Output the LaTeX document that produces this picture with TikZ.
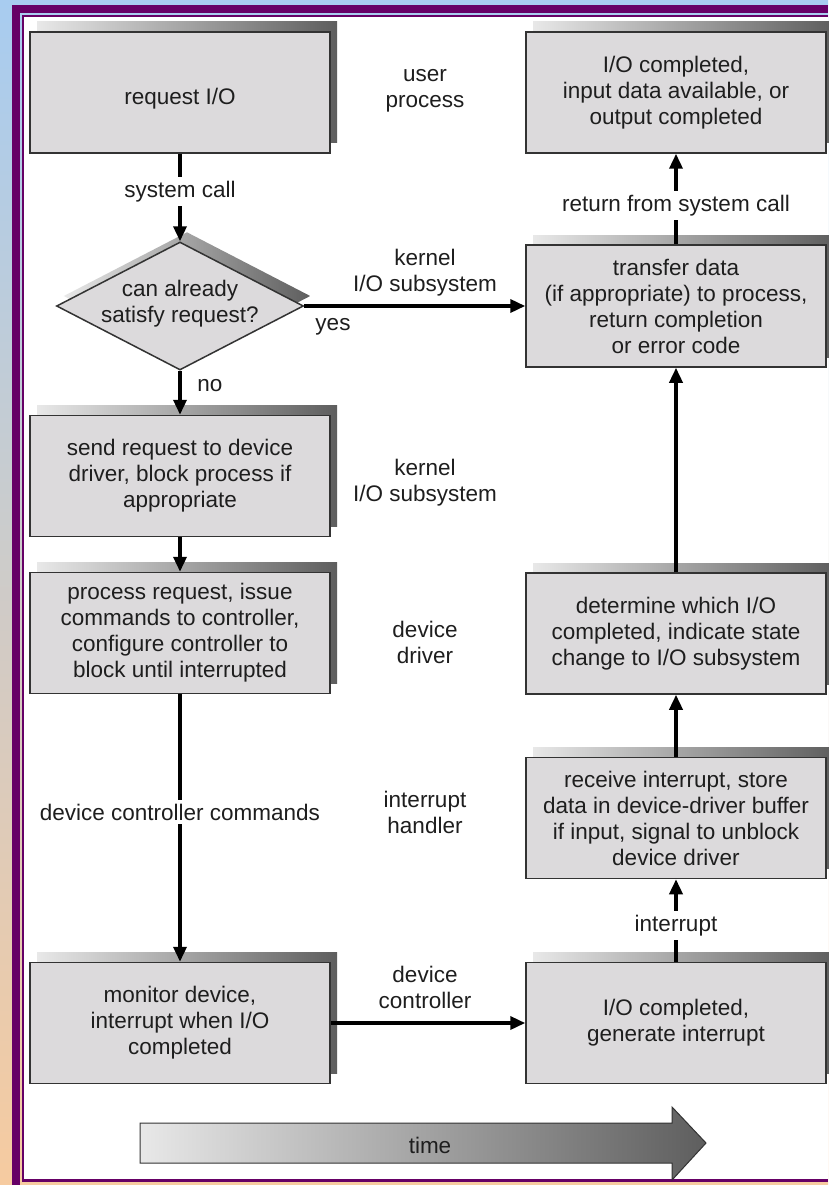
\documentclass[tikz,border=0pt]{standalone}
\usepackage{fontspec}
\setmainfont{Liberation Sans}
\usetikzlibrary{arrows.meta,shapes.geometric,shadows}
\definecolor{bgtop}{HTML}{A8CCF0}
\definecolor{bgbot}{HTML}{F6CBA0}
\definecolor{purp}{HTML}{660066}
\definecolor{boxfill}{HTML}{DCDADC}
\definecolor{boxline}{HTML}{333333}
\definecolor{shL}{HTML}{E8E8E8}
\definecolor{shR}{HTML}{5E5E5E}
\definecolor{txt}{HTML}{1E1E1E}
\begin{document}
\begin{tikzpicture}[x=1pt,y=-1pt,
  every node/.style={font=\fontsize{22.5}{26}\selectfont, text=txt, align=center},
  shadowed/.style={general shadow={shadow xshift=7pt, shadow yshift=10pt, left color=shL, right color=shR, draw=none}},
  box/.style={shadowed, draw=boxline, line width=1.5pt, fill=boxfill, minimum width=300pt, minimum height=121pt, inner sep=2pt,
     execute at begin node={\rule{0pt}{21.5pt}}},
  dia/.style={shadowed, shape=diamond, draw=boxline, line width=1.5pt, fill=boxfill, minimum width=247pt, minimum height=128pt, inner sep=0pt},
  arr/.style={line width=3.5pt, -{Triangle[length=15pt,width=13pt]}},
  lbl/.style={fill=white, inner sep=4pt},
  plain/.style={inner sep=1pt}]
\useasboundingbox (0,0) rectangle (828,1185);
% background and frame
\fill[top color=bgtop, bottom color=bgbot] (0,0) rectangle (828,1185);
\fill[purp] (12,5) rectangle (828,13);
\fill[purp] (12,5) rectangle (20,1185);
\fill[purp] (22,15) rectangle (828,1182);
\fill[white] (24,17) rectangle (828,1179);

% boxes
\node[box] (req)  at (180,92.5) {\rule{0pt}{28pt}request I/O};
\node[box] (done) at (676,92.5) {I/O completed,\\input data available, or\\output completed};
\node[dia] (d) at (180,306) {};
\node (dtxt) at (180,303.5) {can already\\satisfy request?};
\node[box, minimum height=122pt] (xfer) at (676,306) {transfer data\\(if appropriate) to process,\\return completion\\or error code};
\node[box] (send) at (180,476) {send request to device\\driver, block process if\\appropriate};
\node[box] (proc) at (180,633) {process request, issue\\commands to controller,\\configure controller to\\block until interrupted};
\node[box] (det)  at (676,633.5) {determine which I/O\\completed, indicate state\\change to I/O subsystem};
\node[box] (recv) at (676,818) {receive interrupt, store\\data in device-driver buffer\\if input, signal to unblock\\device driver};
\node[box] (mon)  at (180,1023) {monitor device,\\interrupt when I/O\\completed};
\node[box] (gen)  at (676,1023) {I/O completed,\\generate interrupt};

% layer labels
\node[plain] (l1) at (425,91) {user\\process};
\node[plain] (l2) at (425,273) {kernel\\I/O subsystem};
\node[plain] (l3) at (425,483) {kernel\\I/O subsystem};
\node[plain] (l4) at (425,642) {device\\driver};
\node[plain] (l5) at (425,812) {interrupt\\handler};
\node[plain] (l6) at (425,987) {device\\controller};
\node[plain] (yes) at (333,327) {yes};
\node[plain] (no) at (210,386) {no};

% connectors
\draw[arr] (req.south) -- node[lbl, pos=0.43] (sc) {system call} (d.north);
\draw[arr] (d.east) -- (xfer.west);
\draw[arr] (d.south) -- (send.north);
\draw[arr] (send.south) -- (proc.north);
\draw[arr] (proc.south) -- node[lbl, pos=0.44] (dcc) {device controller commands} (mon.north);
\draw[arr] (mon.east) -- (gen.west);
\draw[arr] (gen.north) -- node[lbl, pos=0.44] (intr) {interrupt} (recv.south);
\draw[arr] (recv.north) -- (det.south);
\draw[arr] (det.north) -- (xfer.south);
\draw[arr] (xfer.north) -- node[lbl, pos=0.425] (ret) {return from system call} (done.south);

% time arrow
\shade[left color=shL, right color=shR, draw=boxline, line width=1pt]
  (140,1123) -- (672,1123) -- (672,1107) -- (706,1143) -- (672,1180) -- (672,1163) -- (140,1163) -- cycle;
\node[plain] (time) at (430,1145) {time};
\end{tikzpicture}
\end{document}
